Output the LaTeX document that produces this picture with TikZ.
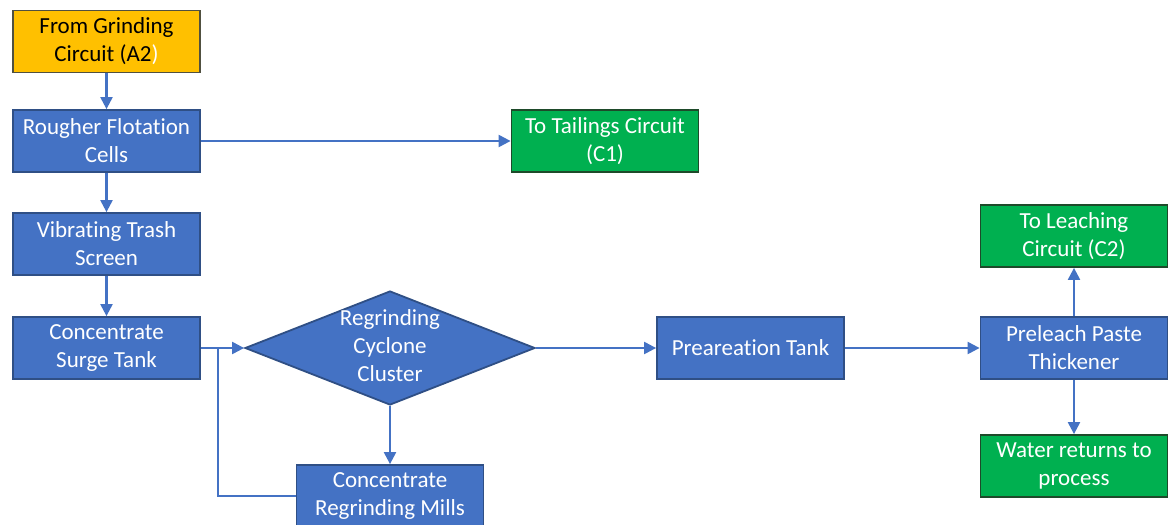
\documentclass[tikz,border=0pt]{standalone}
\usepackage{fontspec}
\setmainfont{Carlito}[Ligatures=NoCommon]
\usetikzlibrary{arrows.meta,shapes.geometric}
\definecolor{bfill}{HTML}{4472C4}
\definecolor{bedge}{HTML}{2F4F85}
\definecolor{gfill}{HTML}{00B050}
\definecolor{gedge}{HTML}{1E4A2A}
\definecolor{yfill}{HTML}{FFC000}
\definecolor{yedge}{HTML}{505040}
\definecolor{arr}{HTML}{4472C4}
\begin{document}
\begin{tikzpicture}[x=1pt,y=-1pt,
  box/.style={rectangle, minimum width=187pt, minimum height=62pt, inner sep=1pt,
    align=center, font=\fontsize{23}{28}\selectfont, line width=1.8pt},
  bluebox/.style={box, fill=bfill, draw=bedge, text=white},
  greenbox/.style={box, fill=gfill, draw=gedge, text=white},
  yellowbox/.style={box, fill=yfill, draw=yedge, text=black},
  flow/.style={draw=arr, line width=2.2pt, -{Triangle[length=12pt,width=12pt]}},
  plain/.style={draw=arr, line width=2.2pt},
  lbl/.style={align=center, font=\fontsize{23}{28}\selectfont, text=white}]
\useasboundingbox (0,0) rectangle (1168,525);
\fill[white] (0,0) rectangle (1168,525);

\node[yellowbox] (grind) at (106.5,41.5) {From Grinding\\Circuit (A2\textcolor{white}{)}};
\node[bluebox] (rough) at (106.5,141) {Rougher Flotation\\Cells};
\node[greenbox] (tail) at (605,141) {To Tailings Circuit\\(C1)};
\node[bluebox] (vib) at (106.5,244) {Vibrating Trash\\Screen};
\node[bluebox] (surge) at (106.5,348) {Concentrate\\Surge Tank};
\node[diamond, fill=bfill, draw=bedge, line width=1.8pt, minimum width=290pt,
  minimum height=114pt, inner sep=0pt] (cyc) at (390,348) {};
\node[lbl] at (390,346) {Regrinding\\Cyclone\\Cluster};
\node[bluebox] (mills) at (390,496) {Concentrate\\Regrinding Mills};
\node[bluebox] (prea) at (750.5,348) {Preareation Tank};
\node[bluebox] (thick) at (1074,348) {Preleach Paste\\Thickener};
\node[greenbox] (leach) at (1074,236) {To Leaching\\Circuit (C2)};
\node[greenbox] (water) at (1074,466) {Water returns to\\process};

\coordinate (junc) at (218,348);

\draw[flow] (grind) -- (rough);
\draw[flow] (rough) -- (tail);
\draw[flow] (rough) -- (vib);
\draw[flow] (vib) -- (surge);
\draw[flow] (surge.east) -- (cyc.west);
\draw[plain] (mills.west) -| (junc);
\draw[flow] (cyc.south) -- (mills.north);
\draw[flow] (cyc.east) -- (prea.west);
\draw[flow] (prea) -- (thick);
\draw[flow] (thick) -- (leach);
\draw[flow] (thick) -- (water);
\end{tikzpicture}
\end{document}
